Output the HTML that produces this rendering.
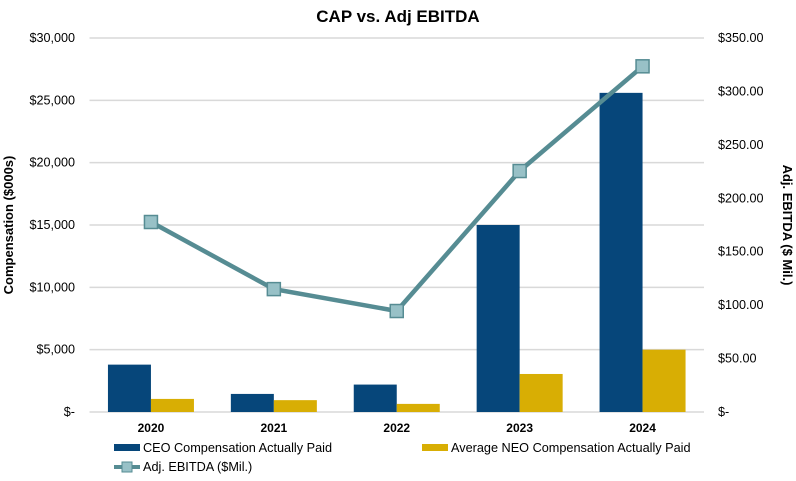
<!DOCTYPE html>
<html><head><meta charset="utf-8"><style>
body{margin:0;background:#fff;font-family:"Liberation Sans",Arial,sans-serif}
svg text{font-family:"Liberation Sans",Arial,sans-serif}
</style></head><body>
<svg id="c" width="796" height="476" viewBox="0 0 796 476">
<text x="398" y="22" text-anchor="middle" font-size="17" font-weight="bold" fill="#000">CAP vs. Adj EBITDA</text>
<text transform="translate(13,225) rotate(-90)" text-anchor="middle" font-size="13" font-weight="bold">Compensation ($000s)</text>
<text transform="translate(783,225) rotate(90)" text-anchor="middle" font-size="13" font-weight="bold">Adj. EBITDA ($ Mil.)</text>
<g id="grid"></g><g id="bars"></g><g id="line"></g><g id="ticks"></g>
<g>
<rect x="114" y="444" width="26" height="7" fill="#06467A"/>
<text x="143" y="452" font-size="12.7">CEO Compensation Actually Paid</text>
<rect x="422" y="444" width="26" height="7" fill="#D8AE04"/>
<text x="451" y="452" font-size="12.7">Average NEO Compensation Actually Paid</text>
<line x1="114" y1="467" x2="140" y2="467" stroke="#568C93" stroke-width="4"/>
<rect x="122" y="462" width="10" height="10" fill="#98C1C7" stroke="#568C93"/>
<text x="143" y="471" font-size="12.7">Adj. EBITDA ($Mil.)</text>
</g>
</svg>
<script>
const categories=["2020","2021","2022","2023","2024"];
const ceoValues=[3800,1450,2200,15000,25600];
const neoValues=[1050,950,650,3050,5000];
const ebitdaValues=[177.8,115,94.5,225.5,323.5];
const leftTicks=["$-","$5,000","$10,000","$15,000","$20,000","$25,000","$30,000"];
const rightTicks=["$-","$50.00","$100.00","$150.00","$200.00","$250.00","$300.00","$350.00"];
const NS="http://www.w3.org/2000/svg";
const X0=89.5,X1=704,Y0=412,Y1=38;
const band=(X1-X0)/categories.length;
const xc=i=>X0+band*(i+0.5);
const yL=v=>Y0-(v/30000)*(Y0-Y1);
const yR=v=>Y0-(v/350)*(Y0-Y1);
function mk(tag,attrs,parent){const e=document.createElementNS(NS,tag);for(const k in attrs)e.setAttribute(k,attrs[k]);document.getElementById(parent).appendChild(e);return e;}
leftTicks.forEach((t,i)=>{const y=yL(i*5000);
 const g=mk("line",{x1:X0,x2:X1,y1:y,y2:y,stroke:"#D9D9D9","stroke-width":1.5},"grid");
 
 
 const tx=mk("text",{x:75,y:y+4,"text-anchor":"end","font-size":12.6},"ticks");tx.textContent=t;
 
 });
rightTicks.forEach((t,i)=>{const y=yR(i*50);
 const tx=mk("text",{x:718,y:y+4,"font-size":12.6},"ticks");tx.textContent=t;
 
 });
const bw=43;
categories.forEach((c,i)=>{
 const r1=mk("rect",{x:xc(i)-bw,y:yL(ceoValues[i]),width:bw,height:Y0-yL(ceoValues[i]),fill:"#06467A"},"bars");
 
 
 const r2=mk("rect",{x:xc(i),y:yL(neoValues[i]),width:bw,height:Y0-yL(neoValues[i]),fill:"#D8AE04"},"bars");
 
 
 const t=mk("text",{x:xc(i),y:432,"text-anchor":"middle","font-size":12,"font-weight":"bold"},"ticks");t.textContent=c;
 
 
});
const pl=mk("polyline",{points:categories.map((c,i)=>xc(i)+","+yR(ebitdaValues[i])).join(" "),fill:"none",stroke:"#568C93","stroke-width":4.5},"line");


categories.forEach((c,i)=>{
 const m=mk("rect",{x:xc(i)-6.5,y:yR(ebitdaValues[i])-6.5,width:13,height:13,fill:"#98C1C7",stroke:"#568C93","stroke-width":1.5},"line");
 
 
});
</script>
</body></html>
